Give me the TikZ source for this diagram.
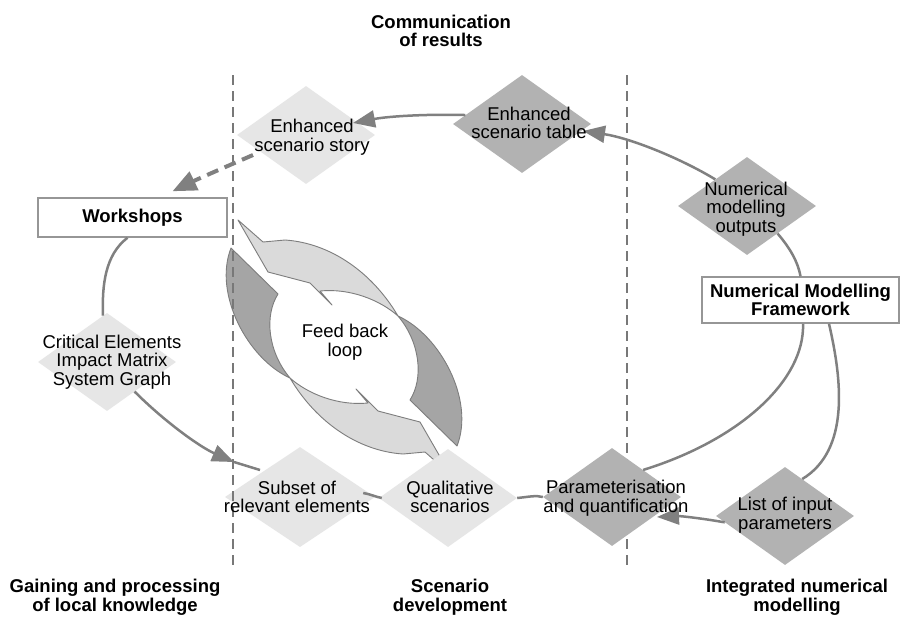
\documentclass[tikz,border=0pt]{standalone}
\usepackage{fontspec}
\setmainfont{Liberation Sans}
\usetikzlibrary{shapes.geometric,arrows.meta,calc}
\definecolor{diaL}{RGB}{230,230,230}
\definecolor{diaD}{RGB}{178,178,178}
\definecolor{loopL}{RGB}{218,218,218}
\definecolor{loopD}{RGB}{165,165,165}
\definecolor{loopE}{RGB}{125,125,125}
\definecolor{conng}{RGB}{128,128,128}
\definecolor{boxg}{RGB}{150,150,150}
\definecolor{dashg}{RGB}{120,120,120}
\begin{document}
\begin{tikzpicture}[x=1pt,y=-1pt,
  dia/.style={shape=diamond, minimum width=138pt, minimum height=98pt, inner sep=0pt, draw=none},
  diaLight/.style={dia, fill=diaL},
  diaDark/.style={dia, fill=diaD},
  txt/.style={font=\fontsize{18.5}{18.5}\selectfont, align=center, inner sep=0pt, text=black},
  btxt/.style={font=\fontsize{18.5}{18.5}\selectfont\bfseries, align=center, inner sep=0pt, text=black},
  boxnode/.style={draw=boxg, line width=1.5pt, fill=white, inner sep=0pt, font=\fontsize{18.5}{18.5}\selectfont\bfseries, align=center},
  conn/.style={draw=conng, line width=2.5pt},
  dconn/.style={draw=conng, line width=4pt, dash pattern=on 12pt off 7pt},
  arr/.style={-{Triangle[length=22pt,width=17pt]}},
  darr/.style={-{Triangle[length=24pt,width=20pt]}},
  vdash/.style={draw=dashg, line width=1.5pt, dash pattern=on 10pt off 6pt},
  loopLight/.style={fill=loopL, draw=loopE, line width=0.9pt, line join=round},
  loopDark/.style={fill=loopD, draw=loopE, line width=0.9pt, line join=round}
]
\fill[white] (0,0) rectangle (901,618);
\useasboundingbox (0,0) rectangle (901,618);

% feedback loop ribbons
\begin{scope}
  \path[loopLight] (238,220) -- (263,242) -- (285,240) .. controls (330,243) and (372,272) .. (398,316)
    .. controls (380,300) and (350,288) .. (320,291) -- (332,305) -- (310,283) -- (268,272) -- cycle;
  \path[loopDark] (398,316) .. controls (440,335) and (475,400) .. (457,446) -- (410,400)
    .. controls (424,378) and (420,342) .. (398,316) -- cycle;
\end{scope}
\begin{scope}[rotate around={180:(344,347)}]
  \path[loopLight] (238,220) -- (263,242) -- (285,240) .. controls (330,243) and (372,272) .. (398,316)
    .. controls (380,300) and (350,288) .. (320,291) -- (332,305) -- (310,283) -- (268,272) -- cycle;
  \path[loopDark] (398,316) .. controls (440,335) and (475,400) .. (457,446) -- (410,400)
    .. controls (424,378) and (420,342) .. (398,316) -- cycle;
\end{scope}
\node[txt] (loopT) at (345,342) {Feed back\\loop};

% light diamonds
\node[diaLight] (story) at (306,135) {};
\node[diaLight] (crit) at (107,362) {};
\node[diaLight, minimum width=150pt, minimum height=100pt] (subset) at (300,497) {};
\node[diaLight] (qual) at (448,498) {};

% dashed separators
\coordinate (sepAtop) at (233,75);
\coordinate (sepAbot) at (233,570);
\coordinate (sepBtop) at (627,75);
\coordinate (sepBbot) at (627,570);
\draw[vdash] (sepAtop) -- (sepAbot);
\draw[vdash] (sepBtop) -- (sepBbot);

% dark diamonds
\node[diaDark] (table) at (522,124) {};
\node[diaDark] (outputs) at (747,206) {};
\node[diaDark] (param) at (612,497) {};
\node[diaDark] (list) at (785,516) {};

% boxes
\node[boxnode, minimum width=189pt, minimum height=39pt] (ws) at (132.5,217.5) {Workshops};
\node[boxnode, minimum width=197pt, minimum height=46pt] (fw) at (800.5,300) {Numerical Modelling\\Framework};

% connectors
\draw[conn,arr] (table.171) .. controls (430,114) and (390,116) .. ([shift={(47,-12)}]story.center);
\draw[conn,arr] (outputs.140) .. controls (680,158) and (630,138) .. ([shift={(61,7)}]table.center);
\draw[conn] (outputs.-42) .. controls (790,248) and (798,262) .. (fw.north);
\draw[conn] ([shift={(2.5,0)}]fw.south) .. controls (805,380) and (740,440) .. (param.41);
\draw[conn] ([shift={(28.5,0)}]fw.south) .. controls (842,380) and (850,450) .. (list.65);
\draw[conn,arr] (list.186) .. controls (700,518) and (680,516) .. ([shift={(45,20)}]param.center);
\draw[conn] (qual.east) .. controls (528,497) and (536,495) .. (param.west);
\draw[conn] ([shift={(-12,-4)}]subset.east) .. controls (370,494) and (376,497) .. ([shift={(3,0)}]qual.west);
\draw[conn,arr] (crit.-47) .. controls (165,422) and (200,447) .. ([shift={(-66,-35)}]subset.center);
\draw[conn] ([shift={(-66,-35)}]subset.center) -- ([shift={(-40,-27)}]subset.center);
\draw[conn] ([shift={(-5,0)}]ws.south) .. controls (105,255) and (102,285) .. (crit.95);
\draw[dconn,darr] ([shift={(-53,20)}]story.center) .. controls (230,165) and (200,178) .. ([shift={(40,-6)}]ws.north);

% diamond texts
\node[txt] (storyT) at (312,137) {Enhanced\\scenario story};
\node[txt] (tableT) at (529,123) {Enhanced\\scenario table};
\node[txt] (outputsT) at (746,209) {Numerical\\modelling\\outputs};
\node[txt] (critT) at (112,362) {Critical Elements\\Impact Matrix\\System Graph};
\node[txt] (subsetT) at (297,497) {Subset of\\relevant elements};
\node[txt] (qualT) at (450,497) {Qualitative\\scenarios};
\node[txt] (paramT) at (616,498) {Parameterisation\\and quantification};
\node[txt] (listT) at (785,515) {List of input\\parameters};

% phase labels
\node[btxt] (topT) at (441,31) {Communication\\of results};
\node[btxt] (gainT) at (115,597) {Gaining and processing\\of local knowledge};
\node[btxt] (scenT) at (450,597) {Scenario\\development};
\node[btxt] (intT) at (797,597) {Integrated numerical\\modelling};
\end{tikzpicture}
\end{document}
